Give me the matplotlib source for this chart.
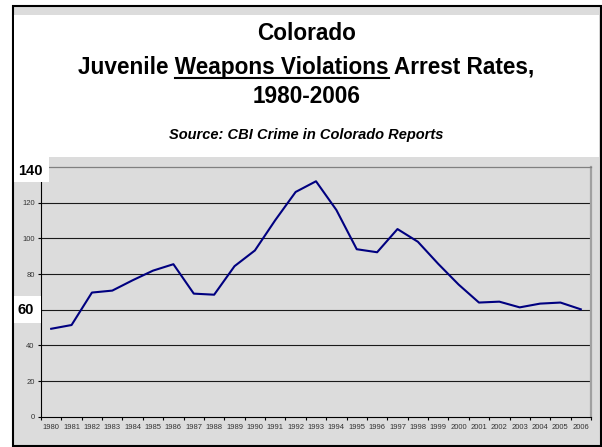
import matplotlib

matplotlib.use("Agg")
import matplotlib.pyplot as plt  # noqa: E402
import numpy as np  # noqa: E402
from matplotlib.patches import Rectangle  # noqa: E402

years = [str(y) for y in range(1980, 2007)]
rates = [49.3, 51.4, 69.6, 70.7, 76.5, 81.9, 85.5, 69.0, 68.4, 84.4,
         93.2, 110.2, 126.0, 132.0, 115.9, 93.9, 92.2, 105.2, 98.1, 85.7,
         74.1, 64.0, 64.5, 61.3, 63.4, 64.0, 60.2]
yticks = [0, 20, 40, 60, 80, 100, 120, 140]
ytick_labels = ["0", "20", "40", "", "80", "100", "120", ""]
grid_vals = [20, 40, 60, 80, 100, 120]

W, H = 602, 447
FONT = "Liberation Sans"
GRAY = "#dcdcdc"
TSIZE = 16.3


def fx(x):
    return x / W


def fy(y):
    return 1 - y / H


def box(x0, y0, x1, y1, **kw):
    r = Rectangle((fx(x0), fy(y1)), fx(x1) - fx(x0), fy(y0) - fy(y1),
                  transform=fig.transFigure, **kw)
    fig.patches.append(r)
    return r


fig = plt.figure(figsize=(W / 100, H / 100), dpi=100, facecolor="white")

# outer frame + white title panel
box(13, 6, 601, 446, facecolor=GRAY, edgecolor="black", linewidth=1.5, zorder=-2)
box(14, 15, 599, 157, facecolor="white", edgecolor="none", zorder=-1)

ax = fig.add_axes([fx(41), fy(416.7), fx(591) - fx(41), fy(167) - fy(416.7)])
ax.set_facecolor(GRAY)
n = len(years)
x = np.arange(n) + 0.5
for g in grid_vals:
    ax.axhline(g, color="#1a1a1a", linewidth=0.8, zorder=1)
ax.plot(x, rates, color="#000080", linewidth=1.5, zorder=3)

ax.set_xlim(0, n)
ax.set_ylim(0, 140)
ax.set_xticks(np.arange(n + 1))
ax.set_xticklabels([])
ax.set_xticks(x, minor=True)
ax.set_xticklabels(years, minor=True, fontsize=5.5, color="#333333", fontfamily=FONT)
ax.tick_params(axis="x", which="major", length=2, width=0.8, direction="out")
ax.tick_params(axis="x", which="minor", length=0, pad=5.5)
ax.set_yticks(yticks)
ax.set_yticklabels(ytick_labels, fontsize=5.5, color="#333333", fontfamily=FONT)
ax.tick_params(axis="y", length=2, width=0.8, pad=2.5)

ax.spines["left"].set_color("black")
ax.spines["bottom"].set_color("black")
ax.spines["top"].set_color("#808080")
ax.spines["top"].set_linewidth(0.9)
ax.spines["right"].set_color("#a0a0a0")
ax.spines["right"].set_linewidth(1.6)

# title block
cx = fx(306.5)
fig.text(cx, fy(40), "Colorado", ha="center", va="baseline",
         fontsize=TSIZE, fontweight="bold", fontfamily=FONT)
line2 = "Juvenile Weapons Violations Arrest Rates,"
t2 = fig.text(cx, fy(74.3), line2, ha="center", va="baseline",
              fontsize=TSIZE, fontweight="bold", fontfamily=FONT)
fig.text(cx, fy(103.3), "1980-2006", ha="center", va="baseline",
         fontsize=TSIZE, fontweight="bold", fontfamily=FONT)
fig.text(cx, fy(139), "Source: CBI Crime in Colorado Reports", ha="center",
         va="baseline", fontsize=10.5, fontweight="bold", fontstyle="italic",
         fontfamily=FONT)

# underline "Weapons Violations"
r = fig.canvas.get_renderer()


def width(s):
    t = fig.text(0, 0, s, fontsize=TSIZE, fontweight="bold", fontfamily=FONT)
    w = t.get_window_extent(r).width
    t.remove()
    return w


full = t2.get_window_extent(r)
u0 = full.x0 + width("Juvenile Weapons Violations") - width("Weapons Violations")
u1 = full.x0 + width("Juvenile Weapons Violations")
fig.add_artist(plt.Line2D([u0 / W, u1 / W], [fy(78.3), fy(78.3)],
                          transform=fig.transFigure, color="black", linewidth=1.5))

# highlighted axis labels
box(14, 157, 49, 182, facecolor="white", edgecolor="none", zorder=5)
box(14, 296, 41, 323, facecolor="white", edgecolor="none", zorder=5)
fig.text(fx(18), fy(175), "140", ha="left", va="baseline", fontsize=10.5,
         fontweight="bold", fontfamily=FONT, zorder=6)
fig.text(fx(18), fy(314.3), "60", ha="left", va="baseline", fontsize=10.5,
         fontweight="bold", fontfamily=FONT, zorder=6)

fig.savefig("out.png", dpi=100)
